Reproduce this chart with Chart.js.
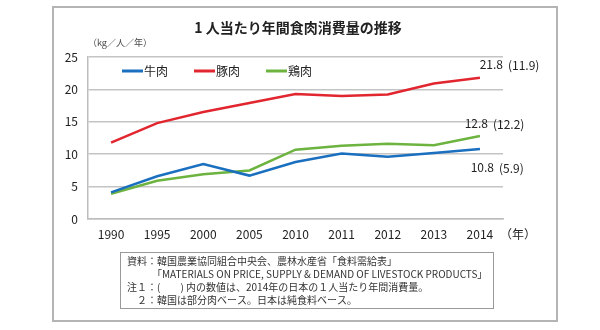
<!DOCTYPE html>
<html>
<head>
<meta charset="utf-8">
<script src="https://cdn.jsdelivr.net/npm/chart.js@4"></script>
<style>
  html, body { margin: 0; padding: 0; background: #fff; }
  #wrap { width: 600px; height: 330px; }
</style>
</head>
<body>
<div id="wrap"><canvas id="myCanvas"></canvas></div>
<script>
// data
const years = ["1990", "1995", "2000", "2005", "2010", "2011", "2012", "2013", "2014"];
const beef = [4.1, 6.6, 8.5, 6.7, 8.8, 10.1, 9.6, 10.2, 10.8];
const pork = [11.8, 14.8, 16.5, 17.9, 19.3, 19.0, 19.2, 20.9, 21.8];
const chicken = [3.9, 5.9, 6.9, 7.5, 10.7, 11.3, 11.6, 11.4, 12.8];
const seriesNames = ["牛肉", "豚肉", "鶏肉"];
const japanValues = ["(5.9)", "(11.9)", "(12.2)"];
const yTicks = [0, 5, 10, 15, 20, 25];

const titleText = "1 人当たり年間食肉消費量の推移";
const unitText = "（kg／人／年）";
const xUnitText = "（年）";
const noteLines = [
  "資料：韓国農業協同組合中央会、農林水産省「食料需給表」",
  "　　　「MATERIALS ON PRICE, SUPPLY & DEMAND OF LIVESTOCK PRODUCTS」",
  "注１：(　　) 内の数値は、2014年の日本の１人当たり年間消費量。",
  "　２：韓国は部分肉ベース。日本は純食料ベース。",
];

const colors = ["#1a6fbf", "#e2262f", "#6cb33f"];
const FONT = "'Noto Sans CJK JP', 'Noto Sans', sans-serif";

// frame, title, legend, end labels and note box
const decorations = {
  id: "decorations",
  beforeDraw(chart) {
    const ctx = chart.ctx;
    ctx.save();
    ctx.strokeStyle = "#b4b4b4";
    ctx.lineWidth = 2;
    ctx.strokeRect(53, 7, 504, 314);
    ctx.restore();
  },
  afterDraw(chart) {
    const ctx = chart.ctx;
    ctx.save();
    ctx.fillStyle = "#222";
    ctx.textBaseline = "middle";

    ctx.font = "bold 14px " + FONT;
    ctx.textAlign = "center";
    ctx.fillText(titleText, 298, 28);

    ctx.font = "9px " + FONT;
    ctx.textAlign = "left";
    ctx.fillStyle = "#444";
    ctx.fillText(unitText, 88, 43);

    // x unit
    ctx.font = "12px " + FONT;
    ctx.fillStyle = "#222";
    ctx.fillText(xUnitText, 500, 234);

    // legend
    let lx = 122;
    ctx.font = "12px " + FONT;
    chart.data.datasets.forEach((ds) => {
      ctx.strokeStyle = ds.borderColor;
      ctx.lineWidth = 3;
      ctx.beginPath();
      ctx.moveTo(lx, 71);
      ctx.lineTo(lx + 21, 71);
      ctx.stroke();
      ctx.fillStyle = "#222";
      ctx.fillText(ds.label, lx + 22, 71);
      lx += 22 + ctx.measureText(ds.label).width + 26;
    });

    // end-of-line values (Korea) and Japan values in brackets
    const offsets = [[-3, 18], [6, -13], [-9, -13]];
    chart.data.datasets.forEach((ds, i) => {
      const meta = chart.getDatasetMeta(i);
      const pt = meta.data[meta.data.length - 1];
      const v = ds.data[ds.data.length - 1].toFixed(1);
      const x = pt.x + offsets[i][0] + 10;
      const y = pt.y + offsets[i][1];
      ctx.font = "12px " + FONT;
      ctx.fillStyle = "#222";
      ctx.textAlign = "right";
      ctx.fillText(v, x + 7, y);
      ctx.textAlign = "left";
      ctx.fillText(japanValues[i], x + 12, y + 1);
    });

    // note box
    ctx.strokeStyle = "#999";
    ctx.lineWidth = 1;
    ctx.strokeRect(120.5, 252.5, 373, 56);
    ctx.font = "10px " + FONT;
    ctx.fillStyle = "#333";
    ctx.textAlign = "left";
    noteLines.forEach((line, i) => {
      ctx.fillText(line, 127, 261 + i * 13);
    });
    ctx.restore();
  },
};

const line = document.getElementById("myCanvas");
new Chart(line, {
  type: "line",
  data: {
    labels: years,
    datasets: [
      { label: seriesNames[0], data: beef, borderColor: colors[0], backgroundColor: colors[0] },
      { label: seriesNames[1], data: pork, borderColor: colors[1], backgroundColor: colors[1] },
      { label: seriesNames[2], data: chicken, borderColor: colors[2], backgroundColor: colors[2] },
    ],
  },
  options: {
    responsive: true,
    maintainAspectRatio: false,
    animation: false,
    layout: { padding: { top: 57, right: 97, bottom: 0, left: 0 } },
    elements: {
      line: { borderWidth: 2.5, tension: 0, fill: false },
      point: { radius: 0 },
    },
    plugins: {
      legend: { display: false },
      title: { display: false },
      tooltip: { enabled: false },
    },
    scales: {
      x: {
        offset: true,
        grid: { display: false, drawTicks: false },
        border: { display: true, color: "#bdbdbd", width: 1.5 },
        ticks: { color: "#222", padding: 8, font: { family: FONT, size: 12 } },
        afterFit(scale) { scale.height = 111; },
      },
      y: {
        min: 0,
        max: 25,
        afterBuildTicks(scale) { scale.ticks = yTicks.map((v) => ({ value: v })); },
        grid: { color: "#c4c4c4", lineWidth: 1.5, drawTicks: false },
        border: { display: true, color: "#bdbdbd", width: 1.5 },
        ticks: { color: "#222", padding: 10, font: { family: FONT, size: 12 } },
        afterFit(scale) { scale.width = 88; },
      },
    },
  },
  plugins: [decorations],
});
</script>
</body>
</html>
